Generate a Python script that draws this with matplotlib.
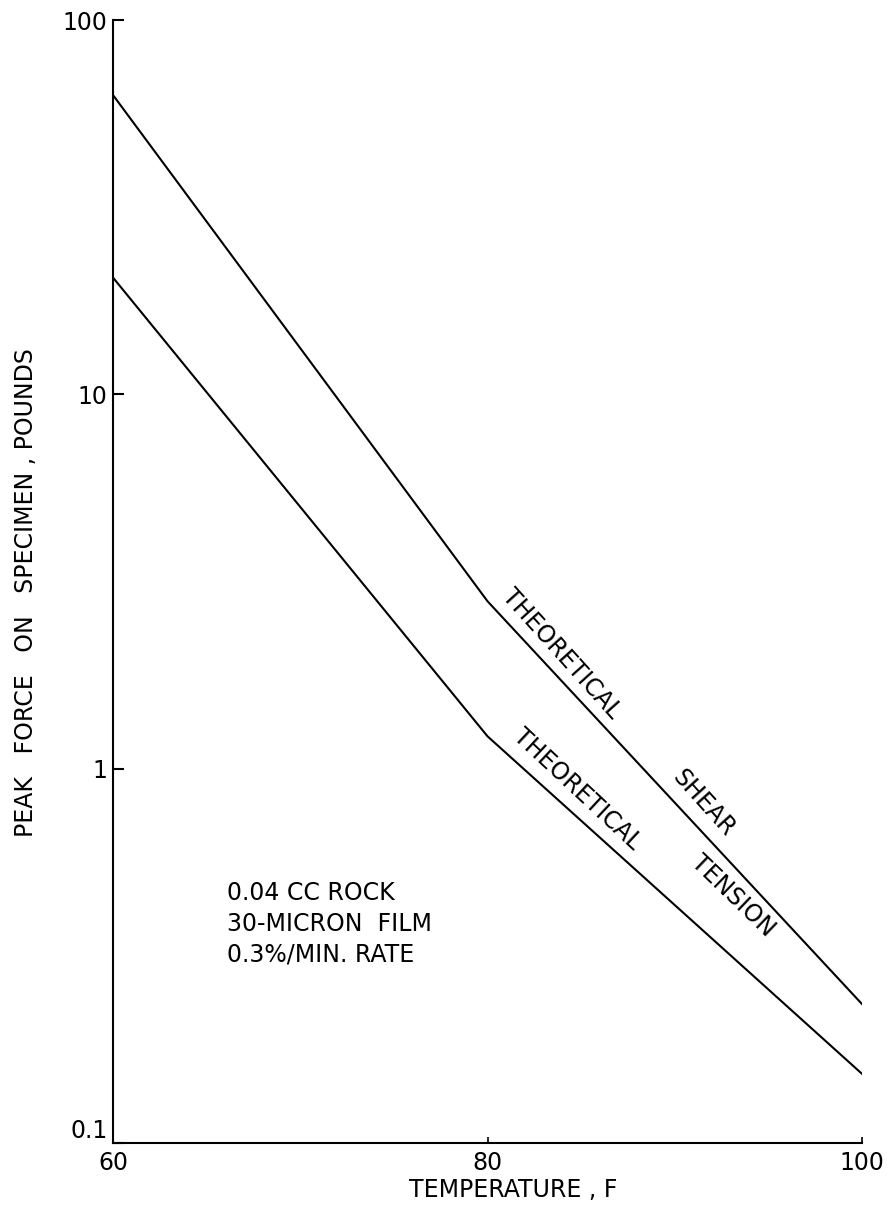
import matplotlib.pyplot as plt

# peak force vs temperature, read at the break points of each line
temperature = [60, 80, 100]
shear = [63.0, 2.8, 0.235]
tension = [20.5, 1.22, 0.153]

xticks = [60, 80, 100]
yticks = [0.1, 1, 10, 100]
ytick_labels = ['0.1', '1', '10', '100']

plt.rcParams['font.family'] = ['DejaVu Sans']
FS = 17

fig = plt.figure(figsize=(8.88, 12.05), dpi=100)
ax = fig.add_axes([0.1273, 0.0515, 0.8434, 0.9319])

ax.plot(temperature, shear, color='black', lw=1.5)
ax.plot(temperature, tension, color='black', lw=1.5)

ax.set_yscale('log')
ax.set_xlim(60, 100)
ax.set_ylim(0.1, 100)

ax.set_yticks(yticks)
ax.set_yticklabels(ytick_labels)
ax.minorticks_off()
ax.set_xticks(xticks)
ax.set_xticklabels([str(t) for t in xticks])

ax.tick_params(axis='y', direction='in', length=8, width=1.5, labelsize=FS, pad=4)
ax.tick_params(axis='x', direction='in', length=4, width=1.2, labelsize=FS, pad=6)
# lift the bottom label so it clears the "60" below it
ax.get_yticklabels()[0].set_verticalalignment('bottom')

for side in ['top', 'right']:
    ax.spines[side].set_visible(False)
for side in ['left', 'bottom']:
    ax.spines[side].set_linewidth(1.5)

ax.set_xlabel('TEMPERATURE , F', fontsize=FS)
ax.xaxis.set_label_coords(0.534, -0.031)
ax.set_ylabel('PEAK   FORCE   ON   SPECIMEN , POUNDS', fontsize=FS)
ax.yaxis.set_label_coords(-0.1, 0.49)

# condition notes
ax.text(66.1, 0.5, '0.04 CC ROCK\n30-MICRON  FILM\n0.3%/MIN. RATE',
        fontsize=FS, ha='left', va='top', linespacing=1.35)

# labels running along each line
def along(x, y, s, angle):
    ax.annotate(s, xy=(x, y), xytext=(3, 3), textcoords='offset points',
                rotation=angle, rotation_mode='anchor',
                ha='left', va='bottom', fontsize=FS)

along(80.3, 2.75, 'THEORETICAL', -48)
along(89.4, 0.9, 'SHEAR', -48)
along(80.9, 1.15, 'THEORETICAL', -43)
along(90.4, 0.53, 'TENSION', -44)

fig.savefig('out.png', dpi=100, facecolor='white')
